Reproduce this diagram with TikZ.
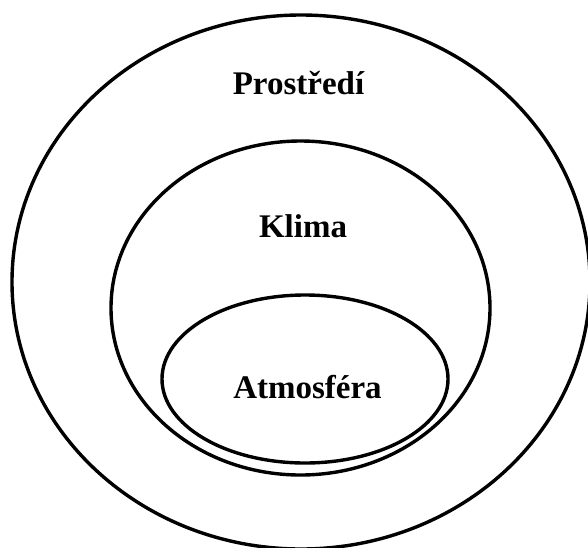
\documentclass[tikz,border=0pt]{standalone}
\usepackage{fontspec}
\setmainfont{Liberation Serif}
\begin{document}
\begin{tikzpicture}[x=1pt,y=-1pt,
  ring/.style={draw=black,line width=3.4pt},
  lbl/.style={font=\fontsize{33}{36}\selectfont\bfseries,anchor=base,inner sep=0pt}]
\useasboundingbox (0,0) rectangle (588,547);
\draw[ring] (301,282) ellipse [x radius=289pt, y radius=267pt];
\draw[ring] (300.5,308) ellipse [x radius=189.5pt, y radius=167pt];
\draw[ring] (305,379) ellipse [x radius=143pt, y radius=84pt];
\node[lbl] (prostredi) at (298.5,94) {Prostředí};
\node[lbl] (klima) at (303,237) {Klima};
\node[lbl] (atmosfera) at (307.5,398) {Atmosféra};
\end{tikzpicture}
\end{document}
